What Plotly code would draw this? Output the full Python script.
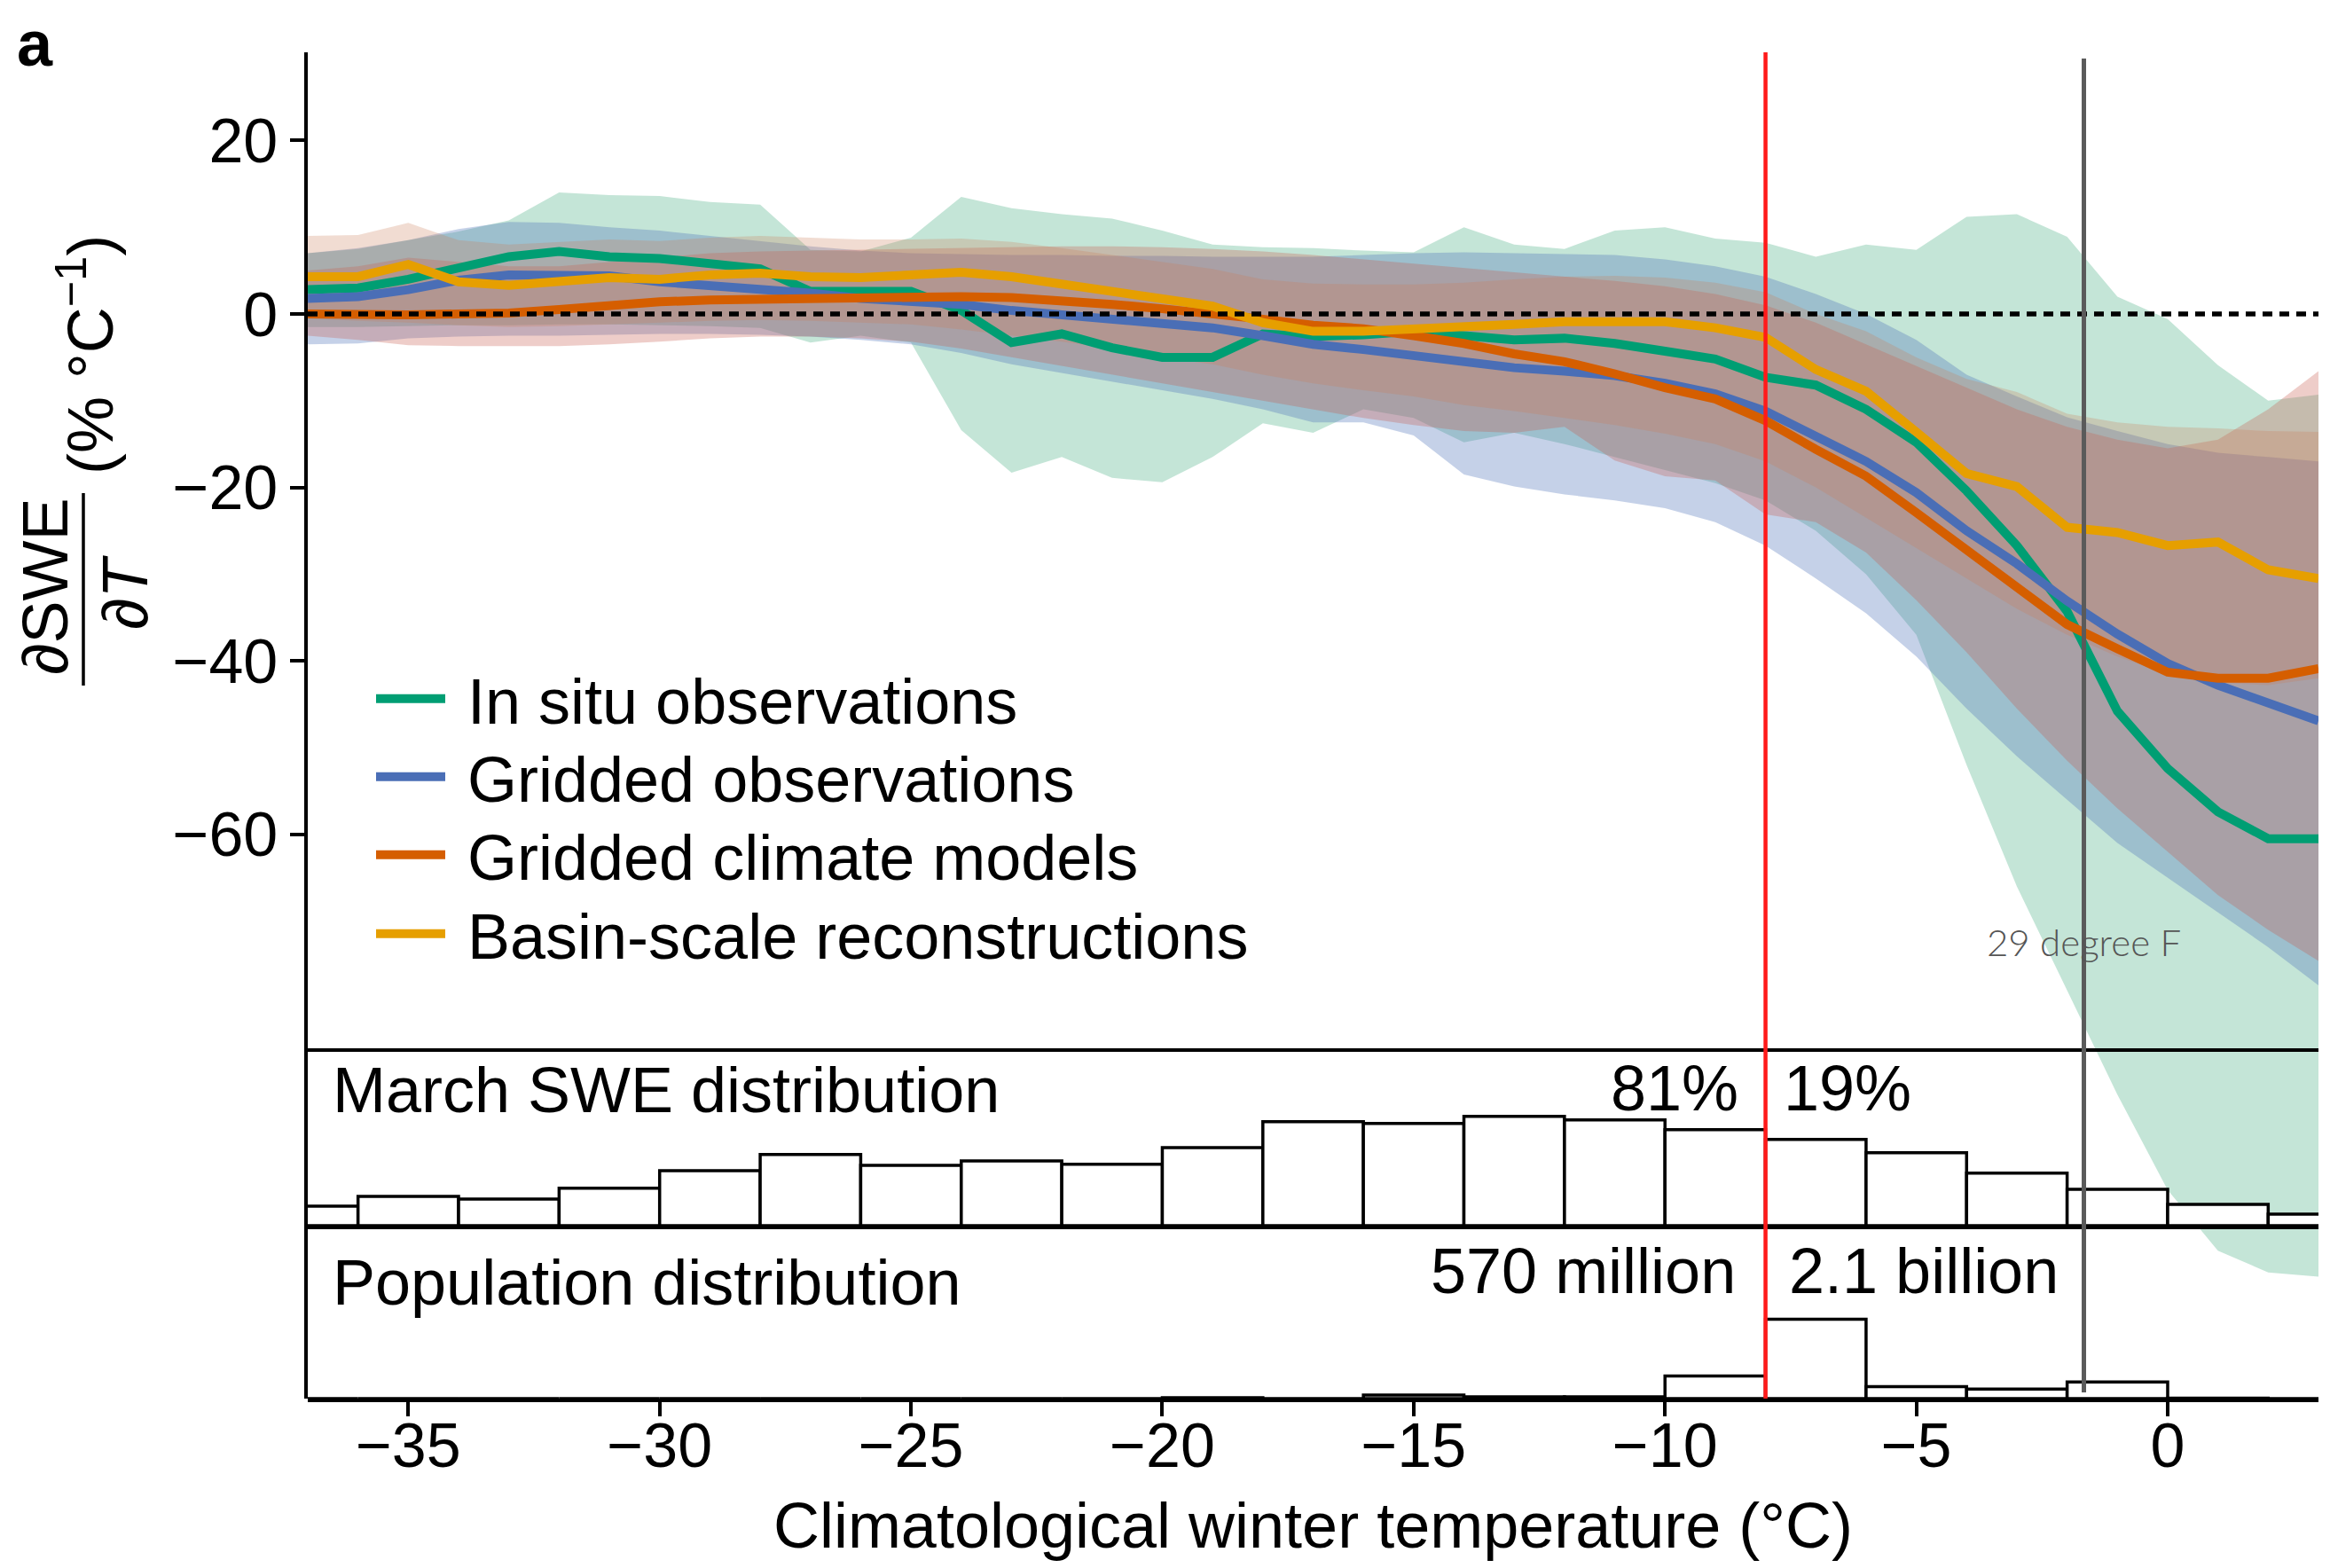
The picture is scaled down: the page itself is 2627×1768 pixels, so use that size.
import plotly.graph_objects as go

# ---------------- data ----------------
temps = [-37, -36, -35, -34, -33, -32, -31, -30, -29, -28, -27, -26, -25, -24, -23, -22, -21,
         -20, -19, -18, -17, -16, -15, -14, -13, -12, -11, -10, -9, -8, -7, -6, -5, -4, -3,
         -2, -1, 0, 1, 2, 3]

insitu_mean = [2.8, 3.0, 4.0, 5.3, 6.6, 7.2, 6.6, 6.4, 5.9, 5.2, 2.6, 2.6, 2.6, 0.4, -3.3, -2.3,
               -3.9, -5.0, -5.0, -2.3, -2.6, -2.4, -2.0, -2.5, -3.0, -2.8, -3.4, -4.3, -5.2, -7.3,
               -8.2, -11.0, -14.8, -20.4, -26.7, -34.3, -45.8, -52.4, -57.4, -60.5, -60.5]
insitu_upper = [7.0, 7.5, 8.5, 9.5, 10.8, 14.0, 13.7, 13.6, 12.9, 12.6, 7.4, 7.2, 8.8, 13.5, 12.2,
                11.5, 11.0, 9.6, 8.0, 7.7, 7.6, 7.3, 7.1, 10.0, 8.0, 7.5, 9.6, 10.0, 8.7, 8.2, 6.6,
                8.0, 7.4, 11.2, 11.5, 8.9, 2.0, -0.6, -5.9, -10.0, -9.3]
insitu_lower = [-1.5, -1.5, -1.4, -1.3, -1.3, -1.2, -1.2, -1.3, -1.4, -1.6, -3.3, -2.5, -3.3, -13.4,
                -18.3, -16.5, -18.9, -19.4, -16.5, -12.6, -13.7, -11.0, -12.0, -14.8, -13.7, -15.0,
                -16.5, -18.0, -19.5, -21.5, -25.0, -30.0, -37.0, -52.0, -66.0, -78.0, -90.0,
                -101.0, -108.0, -110.5, -111.0]

gridobs_mean = [1.8, 2.0, 2.8, 3.9, 4.5, 4.5, 4.4, 3.7, 3.3, 2.8, 2.4, 1.8, 1.5, 1.1, 0.4, -0.1,
                -0.6, -1.1, -1.6, -2.5, -3.5, -4.1, -4.8, -5.7, -6.2, -6.6, -7.1, -8.0, -9.2, -11.2,
                -14.1, -17.0, -20.6, -25.0, -28.8, -33.1, -36.9, -40.3, -42.8, -44.9, -46.9]
gridobs_upper = [7.0, 7.6, 8.5, 9.8, 10.6, 10.5, 10.0, 9.6, 9.0, 8.4, 7.8, 7.3, 7.0, 6.9, 6.8, 6.8,
                 6.7, 6.7, 6.6, 6.6, 6.6, 6.8, 7.0, 7.1, 7.0, 6.9, 6.8, 6.3, 5.5, 4.3, 2.3, 0.0,
                 -3.0, -7.0, -9.5, -11.9, -13.5, -15.0, -16.0, -16.5, -17.0]
gridobs_lower = [-3.5, -3.4, -2.8, -2.6, -2.5, -2.5, -2.4, -2.3, -2.3, -2.4, -2.6, -3.0, -3.5, -4.5,
                 -5.8, -6.8, -7.8, -8.8, -9.8, -11.0, -12.5, -12.5, -14.0, -18.5, -19.9, -20.8,
                 -21.5, -22.4, -24.0, -26.7, -30.5, -34.5, -39.5, -45.5, -51.0, -56.0, -61.0,
                 -65.0, -69.0, -73.0, -77.4]

models_mean = [0.0, -0.1, -0.1, 0.0, 0.1, 0.5, 1.0, 1.4, 1.6, 1.7, 1.8, 1.9, 2.0, 2.0, 1.9, 1.6,
               1.1, 0.6, 0.1, -0.6, -1.3, -1.7, -2.5, -3.4, -4.6, -5.5, -6.9, -8.5, -9.8, -12.3,
               -15.6, -18.7, -22.9, -27.1, -31.4, -35.8, -38.6, -41.3, -42.0, -42.0, -40.9]
models_upper = [5.0, 5.5, 6.5, 6.0, 5.5, 5.5, 6.0, 6.5, 7.0, 7.2, 7.3, 7.4, 7.5, 7.6, 7.7, 7.8,
                7.8, 7.7, 7.5, 7.2, 6.8, 6.3, 5.8, 5.3, 4.8, 4.3, 3.8, 3.2, 2.3, 1.0, -1.0, -3.5,
                -6.0, -8.5, -11.0, -13.0, -14.5, -15.5, -14.5, -11.0, -6.6]
models_lower = [-2.5, -3.0, -3.6, -3.7, -3.7, -3.7, -3.5, -3.2, -2.8, -2.6, -2.6, -2.8, -3.2, -4.0,
                -5.0, -6.0, -7.0, -8.0, -9.0, -10.0, -11.0, -12.0, -12.8, -13.5, -13.7, -13.0,
                -16.9, -18.7, -19.2, -23.1, -24.0, -27.5, -33.0, -39.0, -45.5, -51.5, -57.0,
                -62.0, -67.0, -71.0, -74.6]

basin_mean = [4.3, 4.3, 5.7, 3.7, 3.3, 3.8, 4.2, 4.0, 4.5, 4.7, 4.3, 4.2, 4.6, 4.8, 4.3, 3.5, 2.6,
              1.8, 0.9, -1.0, -2.0, -2.0, -1.8, -1.6, -1.2, -0.9, -0.9, -0.9, -1.6, -2.7, -6.4,
              -8.9, -13.6, -18.4, -19.9, -24.6, -25.2, -26.7, -26.3, -29.5, -30.5]
basin_upper = [9.0, 9.1, 10.5, 8.5, 8.0, 8.3, 8.6, 8.4, 8.8, 9.0, 8.8, 8.6, 8.6, 8.7, 8.3, 7.6,
               6.8, 6.0, 5.2, 4.0, 3.5, 3.4, 3.4, 3.6, 4.0, 4.3, 4.4, 4.2, 3.6, 2.5, 0.0, -2.0,
               -5.0, -7.5, -9.0, -11.5, -12.5, -13.0, -13.2, -13.5, -13.6]
basin_lower = [-0.5, -0.8, -1.0, -1.3, -1.5, -1.4, -1.2, -1.0, -0.8, -0.7, -0.8, -1.0, -1.2, -1.8,
               -2.5, -3.2, -4.0, -5.0, -5.8, -7.0, -8.0, -8.8, -9.5, -10.5, -11.2, -12.0, -12.8,
               -13.8, -15.0, -17.0, -20.0, -23.5, -27.0, -30.5, -34.0, -37.0, -39.5, -41.5,
               -42.5, -42.8, -42.0]

# histograms (2 degC bins, left edges)
bin_left = [-38, -36, -34, -32, -30, -28, -26, -24, -22, -20, -18, -16, -14, -12, -10, -8, -6,
            -4, -2, 0, 2]
swe_share_pct = [1.5, 2.25, 2.05, 2.87, 4.23, 5.46, 4.64, 4.98, 4.71, 6.0, 7.99, 7.85, 8.4, 8.12,
                 7.37, 6.62, 5.6, 4.03, 2.8, 1.64, 0.89]
pop_millions = [0, 0, 0, 0, 0, 0, 0, 0, 0, 16, 0, 64, 32, 32, 407, 1423, 213, 169, 300, 8, 0]

threshold_c = -8.0                      # split of the distributions
f29_c = (29 - 32) * 5 / 9               # 29 degree F in degC

x_ticks = [-35, -30, -25, -20, -15, -10, -5, 0]
y_ticks = [20, 0, -20, -40, -60]

series = [
    ("In situ observations", insitu_mean, insitu_upper, insitu_lower,
     "#009E73", "rgba(20,150,95,0.25)"),
    ("Gridded observations", gridobs_mean, gridobs_upper, gridobs_lower,
     "#4A6EB6", "rgba(76,111,183,0.32)"),
    ("Gridded climate models", models_mean, models_upper, models_lower,
     "#D55E00", "rgba(200,90,75,0.30)"),
    ("Basin-scale reconstructions", basin_mean, basin_upper, basin_lower,
     "#E69F00", "rgba(205,125,90,0.27)"),
]

def mlabel(v):
    return str(v).replace("-", "\u2212")

FONT = "Liberation Sans, Arial, Helvetica, sans-serif"
# the page body adds an 8 px margin around the figure
W, H = 2611, 1752
ML, MR, MT, MB = 339, 5, 51, 183
PH = H - MT - MB
PW = W - ML - MR

def py(Y):  # screen row -> paper y
    return (H - MB - (Y - 8)) / PH

def px(X):  # screen column -> paper x
    return (X - 8 - ML) / PW

fig = go.Figure()

for name, m, up, lo, lc, fc in series:
    fig.add_trace(go.Scatter(
        x=temps + temps[::-1], y=up + lo[::-1], fill="toself", fillcolor=fc,
        mode="lines", line=dict(width=0), hoverinfo="skip", showlegend=False,
        xaxis="x", yaxis="y"))

legend_ids = ["legend", "legend2", "legend3", "legend4"]
for (name, m, up, lo, lc, fc), lg in zip(series, legend_ids):
    fig.add_trace(go.Scatter(
        x=temps, y=m, mode="lines", name="\u00a0" + name, line=dict(color=lc, width=10),
        legend=lg, xaxis="x", yaxis="y"))

centers = [b + 1 for b in bin_left]
bar_style = dict(color="white", line=dict(color="black", width=3.5))
fig.add_trace(go.Bar(x=centers, y=swe_share_pct, width=2, marker=bar_style,
                     showlegend=False, xaxis="x2", yaxis="y2"))
fig.add_trace(go.Bar(x=centers, y=pop_millions, width=2, marker=bar_style,
                     showlegend=False, xaxis="x3", yaxis="y3"))

dom_swe = [py(1382), py(1186)]
dom_pop = [0, py(1382)]

# value -> screen row mapping of the main panel: 0 at 354 px, 9.78 px per unit
y_main_range = [(354 - 1577) / 9.78, (354 - 59) / 9.78]

legend_rows = [788, 876, 964, 1053]
legends = {}
for lg, Y in zip(legend_ids, legend_rows):
    legends[lg] = dict(x=px(419), y=py(Y), xanchor="left", yanchor="middle",
                       bgcolor="rgba(0,0,0,0)", borderwidth=0, itemwidth=78,
                       font=dict(size=72))

fig.update_layout(
    width=W, height=H,
    margin=dict(l=ML, r=MR, t=MT, b=MB, pad=0, autoexpand=False),
    paper_bgcolor="white", plot_bgcolor="rgba(0,0,0,0)",
    font=dict(family=FONT, size=72, color="black"),
    barmode="overlay",
    showlegend=True,
    **legends,
    xaxis=dict(domain=[0, 1], anchor="y", range=[-37, 3], visible=False, automargin=False),
    yaxis=dict(domain=[0, 1], anchor="x", range=y_main_range,
               tickvals=y_ticks, ticktext=[mlabel(v) for v in y_ticks],
               ticks="outside", ticklen=16, tickwidth=3.5, tickcolor="black",
               showline=True, linewidth=3.5, linecolor="black",
               showgrid=False, zeroline=False, tickfont=dict(size=70),
               ticklabelstandoff=0, automargin=False),
    xaxis2=dict(domain=[0, 1], anchor="y2", range=[-37, 3], showline=True, mirror=True,
                linewidth=3.5, linecolor="black", ticks="", showticklabels=False,
                showgrid=False, zeroline=False, automargin=False),
    yaxis2=dict(domain=dom_swe, anchor="x2", range=[0, 13.35], visible=False,
                automargin=False),
    xaxis3=dict(domain=[0, 1], anchor="y3", range=[-37, 3], showline=True,
                linewidth=3.5, linecolor="black", ticks="outside", ticklen=16,
                tickwidth=3.5, tickcolor="black",
                tickvals=x_ticks, ticktext=[mlabel(v) for v in x_ticks],
                tickfont=dict(size=70), ticklabelstandoff=-27,
                showgrid=False, zeroline=False, automargin=False,
                title=dict(text="Climatological winter temperature (\u00b0C)",
                           font=dict(size=72), standoff=37)),
    yaxis3=dict(domain=dom_pop, anchor="x3", range=[0, 3100], visible=False,
                automargin=False),
)

fig.add_shape(type="line", xref="x", yref="y", x0=-37, x1=3, y0=0, y1=0,
              line=dict(color="black", width=5.5, dash="11px,8px"), layer="above")
fig.add_shape(type="line", xref="x", yref="paper", x0=threshold_c, x1=threshold_c,
              y0=0, y1=1, line=dict(color="#FF1A1A", width=4.5), layer="above")
fig.add_shape(type="line", xref="x", yref="paper", x0=f29_c, x1=f29_c,
              y0=py(1570), y1=py(66), line=dict(color="#5A5A5A", width=5), layer="above")
# fraction bar of the y label
fig.add_shape(type="line", xref="paper", yref="paper", x0=px(94), x1=px(94),
              y0=py(773), y1=py(556), line=dict(color="black", width=3.5))

ann = []
ann.append(dict(text="<b>a</b>", x=px(18), y=py(8), xanchor="left", yanchor="top",
                font=dict(size=72)))
ann.append(dict(text="\u2202SWE", x=px(51), y=py(661), textangle=-90,
                xanchor="center", yanchor="middle", font=dict(size=72)))
ann.append(dict(text="\u2202<i>T</i>", x=px(141), y=py(668), textangle=-90,
                xanchor="center", yanchor="middle", font=dict(size=72)))
ann.append(dict(text="(% \u00b0C<sup>\u22121</sup>)", x=px(96), y=py(400), textangle=-90,
                xanchor="center", yanchor="middle", font=dict(size=72)))
ann.append(dict(text="March SWE distribution", x=px(374), y=py(1229),
                xanchor="left", yanchor="middle", font=dict(size=72)))
ann.append(dict(text="Population distribution", x=px(374), y=py(1446),
                xanchor="left", yanchor="middle", font=dict(size=72)))
for txt, side, shift, Y in [("81%", "right", -30, 1227), ("19%", "left", 19, 1227),
                            ("570 million", "right", -33, 1433),
                            ("2.1 billion", "left", 25, 1433)]:
    ann.append(dict(text=txt, x=threshold_c, xref="x", y=py(Y), yref="paper",
                    xanchor=side, yanchor="middle", xshift=shift, font=dict(size=72)))
ann.append(dict(text="29 degree F", x=f29_c, xref="x", y=py(1062), yref="paper",
                xanchor="center", yanchor="middle",
                font=dict(family="Lato, Open Sans, sans-serif", size=42, color="#555555",
                          weight=300)))
for a in ann:
    a.setdefault("xref", "paper")
    a.setdefault("yref", "paper")
    a["showarrow"] = False
    a["borderpad"] = 0
fig.update_layout(annotations=ann)

fig.write_html("out.html")
